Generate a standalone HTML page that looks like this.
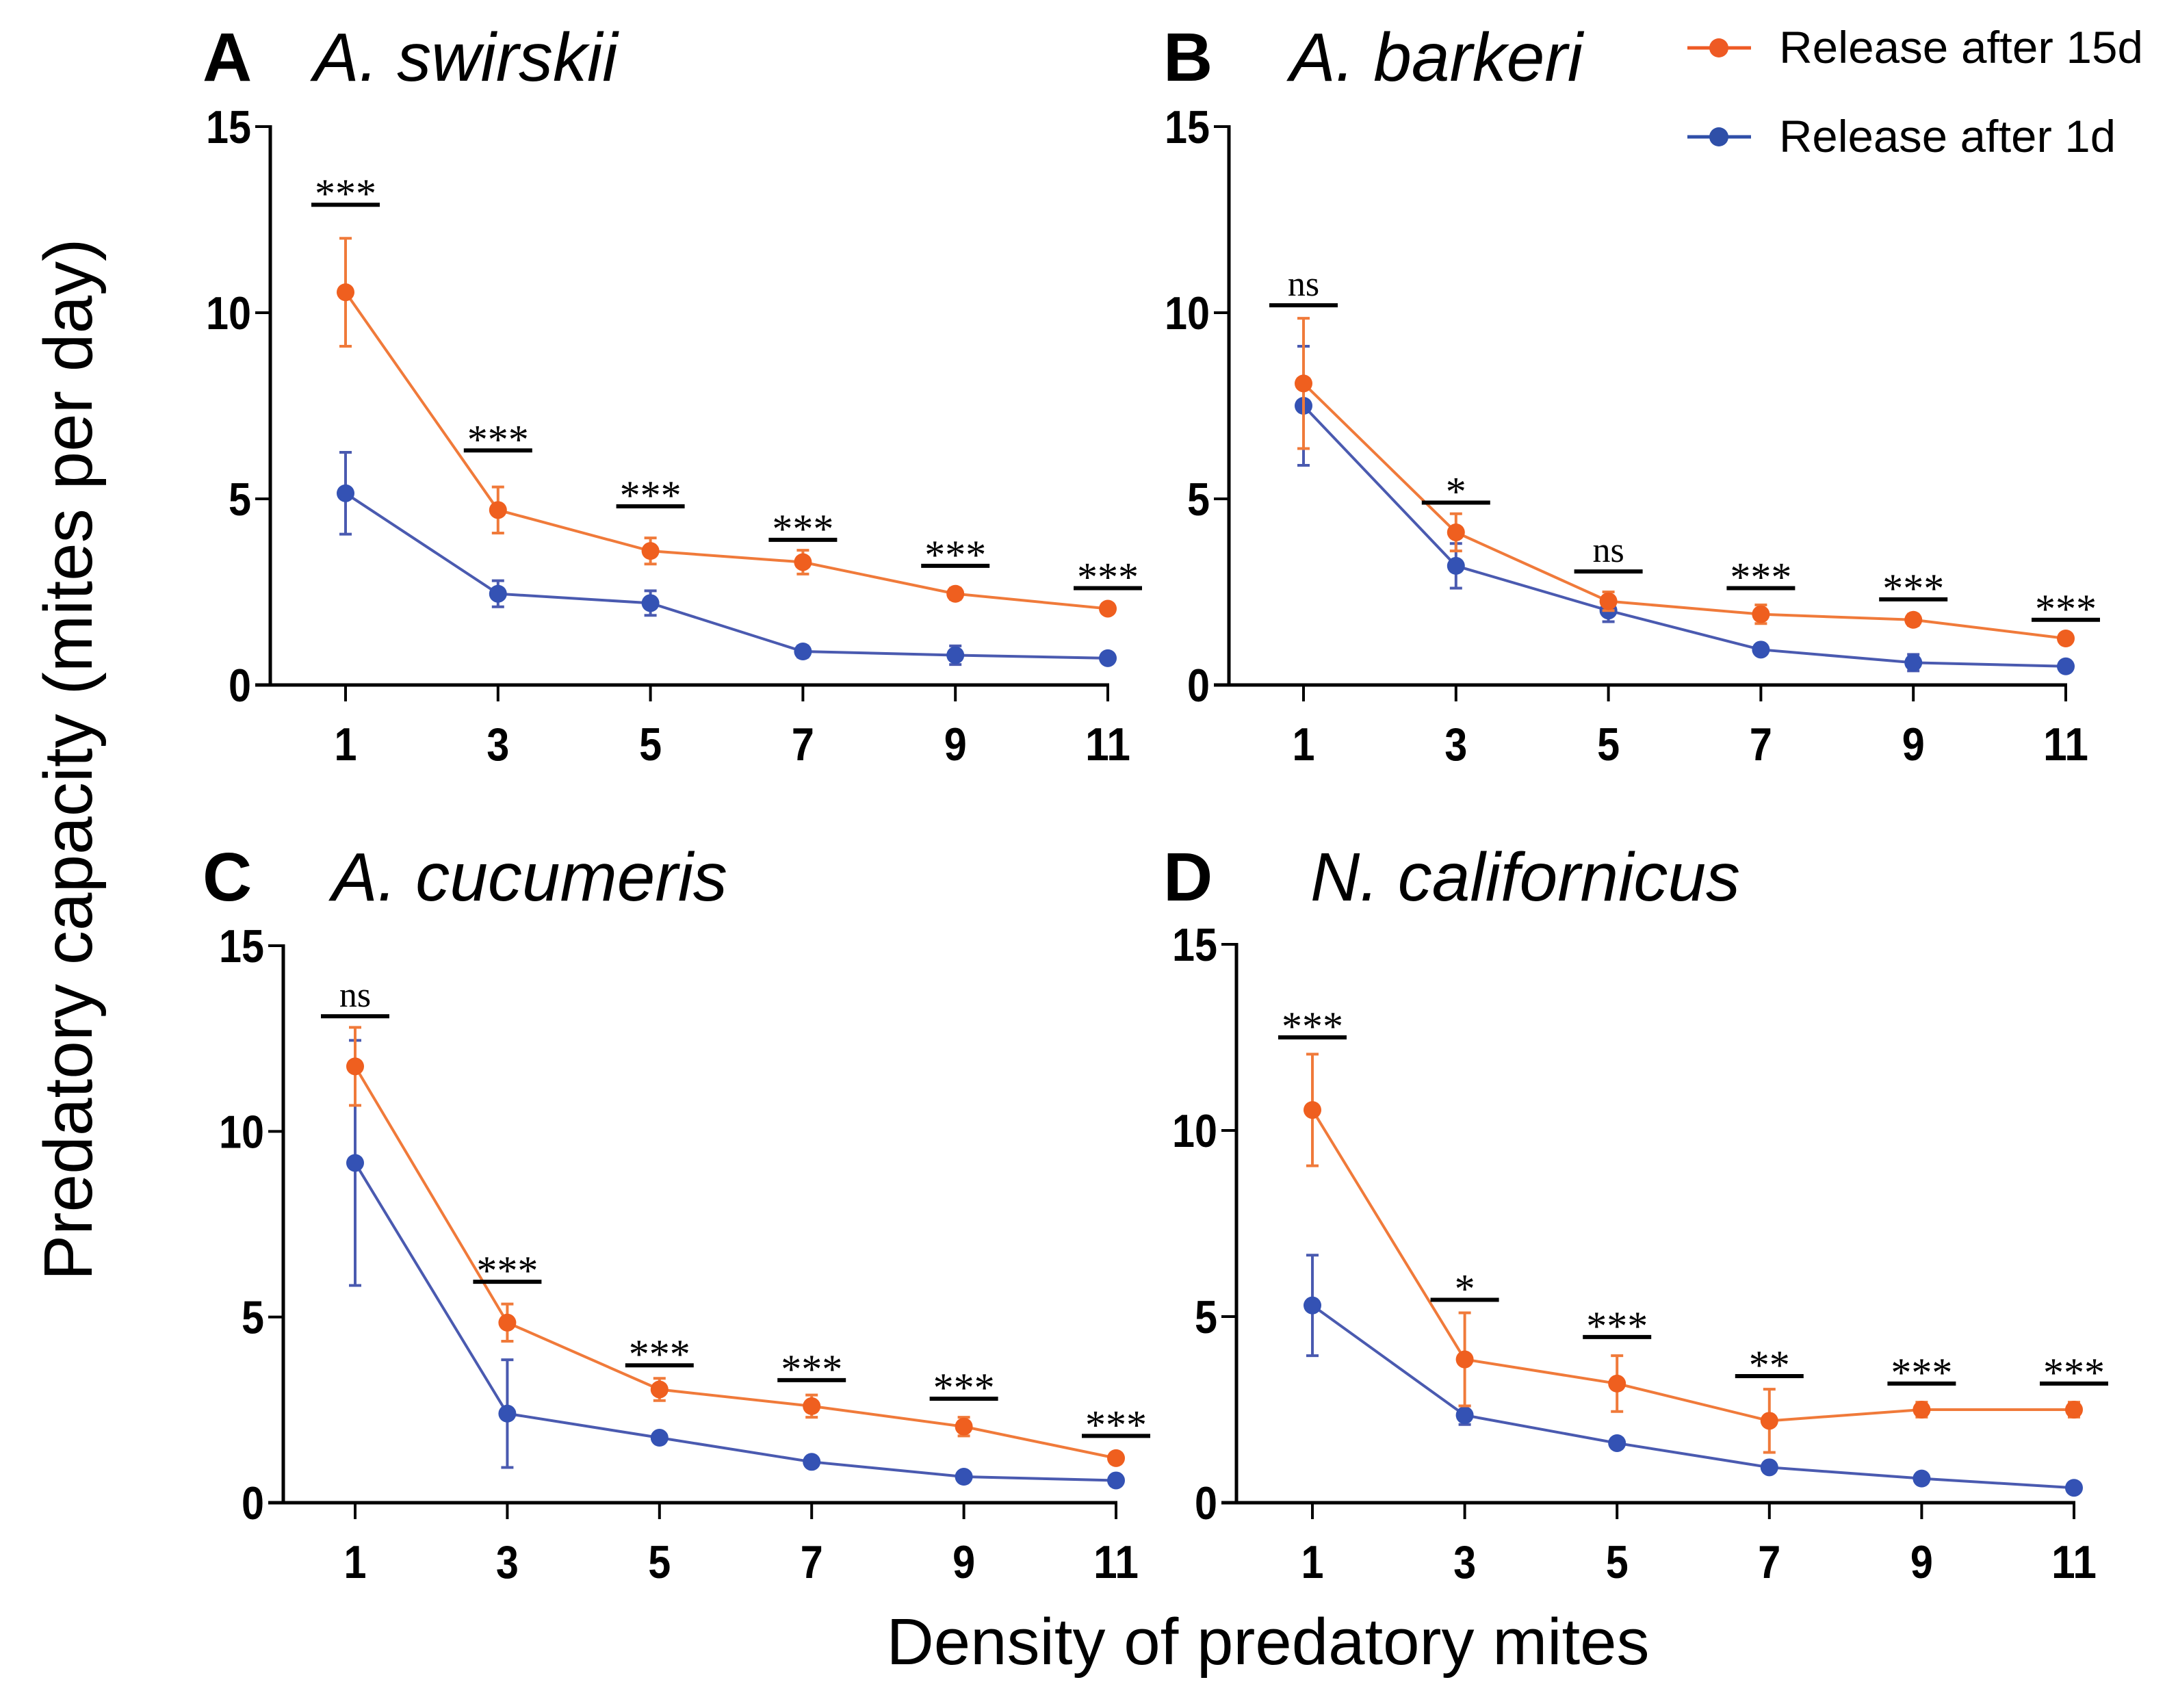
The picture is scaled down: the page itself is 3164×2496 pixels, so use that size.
<!DOCTYPE html>
<html><head><meta charset="utf-8"><style>
html,body{margin:0;padding:0;background:#fff}
svg{display:block;font-family:"Liberation Sans",Arial,sans-serif}
</style></head><body>
<svg id="chart" width="3164" height="2496" viewBox="0 0 3164 2496" xmlns="http://www.w3.org/2000/svg">
<rect width="3164" height="2496" fill="#fff"/>
<g id="panels"></g>
<text transform="translate(134,1110) rotate(-90)" text-anchor="middle" font-size="100">Predatory capacity (mites per day)</text>
<text x="1853" y="2432" text-anchor="middle" font-size="96">Density of predatory mites</text>
<g>
<g>
<line x1="2466" y1="70" x2="2559" y2="70" stroke="#ee5a24" stroke-width="5"/>
<circle cx="2512" cy="70" r="14" fill="#ee5a24"/>
<text x="2600" y="92" font-size="66" textLength="532" lengthAdjust="spacingAndGlyphs">Release after 15d</text>
</g>
<g>
<line x1="2466" y1="200" x2="2559" y2="200" stroke="#2f4fa8" stroke-width="5"/>
<circle cx="2512" cy="200" r="14" fill="#2f4fa8"/>
<text x="2600" y="222" font-size="66" textLength="492" lengthAdjust="spacingAndGlyphs">Release after 1d</text>
</g>
</g>
</svg>
<script>
const categories = [1,3,5,7,9,11];
const yTicks = [0,5,10,15];
const titles = ["A. swirskii","A. barkeri","A. cucumeris","N. californicus"];
const letters = ["A","B","C","D"];
// orange = Release after 15d, blue = Release after 1d
const orangeA = [10.55,4.7,3.6,3.3,2.45,2.05];
const orangeAerr = [1.45,0.62,0.35,0.32,0.15,0.1];
const blueA = [5.15,2.45,2.2,0.9,0.8,0.72];
const blueAerr = [1.1,0.35,0.33,0.15,0.25,0.08];
const sigA = ["***","***","***","***","***","***"];
const sigAy = [12.9,6.3,4.8,3.9,3.2,2.6];
const orangeB = [8.1,4.1,2.25,1.9,1.75,1.25];
const orangeBerr = [1.75,0.5,0.25,0.25,0.15,0.1];
const blueB = [7.5,3.2,2.0,0.95,0.6,0.5];
const blueBerr = [1.6,0.6,0.3,0.12,0.22,0.08];
const sigB = ["ns","*","ns","***","***","***"];
const sigBy = [10.2,4.9,3.05,2.6,2.3,1.75];
const orangeC = [11.75,4.85,3.05,2.6,2.05,1.2];
const orangeCerr = [1.05,0.5,0.3,0.3,0.25,0.08];
const blueC = [9.15,2.4,1.75,1.1,0.7,0.6];
const blueCerr = [3.3,1.45,0.08,0.08,0.08,0.08];
const sigC = ["ns","***","***","***","***","***"];
const sigCy = [13.1,5.95,3.7,3.3,2.8,1.8];
const orangeD = [10.55,3.85,3.2,2.2,2.5,2.5];
const orangeDerr = [1.5,1.25,0.75,0.85,0.2,0.2];
const blueD = [5.3,2.35,1.6,0.95,0.65,0.4];
const blueDerr = [1.35,0.25,0.08,0.12,0.08,0.06];
const sigD = ["***","*","***","**","***","***"];
const sigDy = [12.5,5.45,4.45,3.4,3.2,3.2];

const layouts = [
 {ax:395, x1:505, x11:1619, y0:1001, y15:185, lx:296, tx:458, ty:118},
 {ax:1796, x1:1905, x11:3019, y0:1001, y15:185, lx:1700, tx:1885, ty:118},
 {ax:414, x1:519, x11:1631, y0:2196, y15:1382, lx:296, tx:485, ty:1316},
 {ax:1807, x1:1918, x11:3031, y0:2196, y15:1380, lx:1700, tx:1915, ty:1316}
];
const data = [
 [orangeA,orangeAerr,blueA,blueAerr,sigA,sigAy],
 [orangeB,orangeBerr,blueB,blueBerr,sigB,sigBy],
 [orangeC,orangeCerr,blueC,blueCerr,sigC,sigCy],
 [orangeD,orangeDerr,blueD,blueDerr,sigD,sigDy]
];
const NS="http://www.w3.org/2000/svg";
function mk(tag, attrs, parent){const e=document.createElementNS(NS,tag);for(const k in attrs)e.setAttribute(k,attrs[k]);parent.appendChild(e);return e;}
const root=document.getElementById('panels');
layouts.forEach((L,pi)=>{
 const g=mk('g',{},root);
 
 
 const xs=v=>L.x1+(v-1)/10*(L.x11-L.x1);
 const ys=v=>L.y0-v/15*(L.y0-L.y15);
 const lt=mk('text',{x:L.lx,y:L.ty,'font-size':100,'font-weight':'bold'},g);lt.textContent=letters[pi];
 
 
 const tt=mk('text',{x:L.tx,y:L.ty,'font-size':100,'font-style':'italic'},g);tt.textContent=titles[pi];
 
 
 const ya=mk('line',{x1:L.ax,y1:L.y15-2,x2:L.ax,y2:L.y0,stroke:'#000','stroke-width':5},g);
 
 
 const xa=mk('line',{x1:L.ax-22,y1:L.y0,x2:L.x11+2,y2:L.y0,stroke:'#000','stroke-width':5},g);
 
 
 yTicks.forEach(t=>{
  mk('line',{x1:L.ax-22,y1:ys(t),x2:L.ax,y2:ys(t),stroke:'#000','stroke-width':4},g);
  const s=String(t);
  const tx=mk('text',{x:L.ax-28,y:ys(t)+24,'font-size':68,'font-weight':'bold','text-anchor':'end',textLength:s.length*33,lengthAdjust:'spacingAndGlyphs'},g);tx.textContent=s;
  
  
 });
 categories.forEach(c=>{
  mk('line',{x1:xs(c),y1:L.y0,x2:xs(c),y2:L.y0+24,stroke:'#000','stroke-width':4},g);
  const s=String(c);
  const tx=mk('text',{x:xs(c),y:L.y0+110,'font-size':68,'font-weight':'bold','text-anchor':'middle',textLength:s.length*33,lengthAdjust:'spacingAndGlyphs'},g);tx.textContent=s;
  
  
 });
 const [o,oe,b,be,sig,sigy]=data[pi];
 [[b,be,'#4a5ab0','#3452b4','series-1d'],[o,oe,'#f07a3a','#ef5f1f','series-15d']].forEach(([vals,errs,lc,mc,nm])=>{
  const sg=mk('g',{},g);
  
  
  const pts=vals.map((v,i)=>xs(categories[i])+','+ys(v)).join(' ');
  const pl=mk('polyline',{points:pts,fill:'none',stroke:lc,'stroke-width':4},sg);
  
  
  vals.forEach((v,i)=>{
   const x=xs(categories[i]);
   const e=mk('path',{d:`M${x},${ys(v-errs[i])}V${ys(v+errs[i])}M${x-9},${ys(v-errs[i])}H${x+9}M${x-9},${ys(v+errs[i])}H${x+9}`,stroke:lc,'stroke-width':4,fill:'none'},sg);
   
   
   const c=mk('circle',{cx:x,cy:ys(v),r:13,fill:mc},sg);
   
   
  });
 });
 sig.forEach((s,i)=>{
  const x=xs(categories[i]);
  const y=ys(sigy[i]);
  const l=mk('line',{x1:x-50,y1:y,x2:x+50,y2:y,stroke:'#000','stroke-width':6},g);
  
  
  const ns=s==='ns';
  const t=mk('text',{x:x,y:ns?y-14:y+4,'font-size':ns?52:60,'text-anchor':'middle','font-family':'"Liberation Serif",serif'},g);
  t.textContent=s;
  
  
 });
});
</script>
</body></html>
